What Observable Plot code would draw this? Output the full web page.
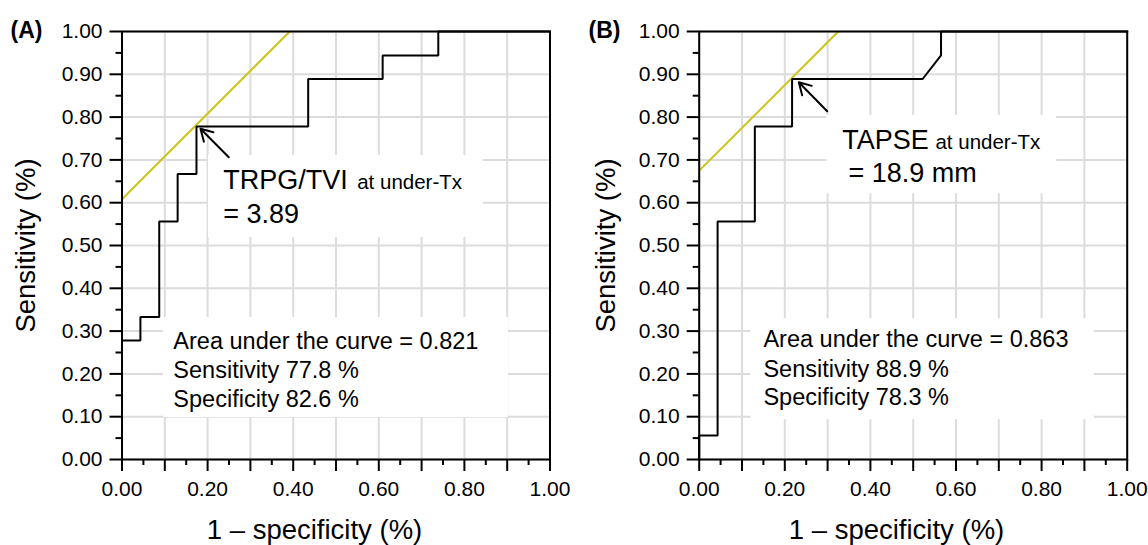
<!DOCTYPE html>
<html>
<head>
<meta charset="utf-8">
<script src="https://cdn.jsdelivr.net/npm/d3@7"></script>
<script src="https://cdn.jsdelivr.net/npm/@observablehq/plot@0.6"></script>
<style>
  body { margin: 0; background: #fff; }
  #wrap { display: flex; width: 1148px; height: 545px; overflow: hidden; }
  #wrap svg { display: block; }
</style>
</head>
<body>
<div id="wrap"></div>
<script>
// ---------- Data ----------
// Panel A: TRPG/TVI ROC curve (step corners)
const rocA_fpr = [0, 0, 0.043, 0.043, 0.087, 0.087, 0.130, 0.130, 0.174, 0.174, 0.435, 0.435, 0.609, 0.609, 0.739, 0.739, 1.0];
const rocA_tpr = [0, 0.278, 0.278, 0.333, 0.333, 0.556, 0.556, 0.667, 0.667, 0.778, 0.778, 0.889, 0.889, 0.944, 0.944, 1.0, 1.0];
// Panel A: cut-off tangent line (yellow)
const cutA_fpr = [0, 0.392];
const cutA_tpr = [0.608, 1.0];

// Panel B: TAPSE ROC curve
const rocB_fpr = [0, 0, 0.043, 0.043, 0.130, 0.130, 0.217, 0.217, 0.522, 0.565, 0.565, 1.0];
const rocB_tpr = [0, 0.056, 0.056, 0.556, 0.556, 0.778, 0.778, 0.889, 0.889, 0.944, 1.0, 1.0];
const cutB_fpr = [0, 0.325];
const cutB_tpr = [0.675, 1.0];

// Texts
const panelTags = ["(A)", "(B)"];
const markerNames = ["TRPG/TVI", "TAPSE"];
const markerSub = "at under-Tx";
const cutValues = ["= 3.89", "= 18.9 mm"];
const statsA = ["Area under the curve = 0.821", "Sensitivity 77.8 %", "Specificity 82.6 %"];
const statsB = ["Area under the curve = 0.863", "Sensitivity 88.9 %", "Specificity 78.3 %"];
const xTitle = "1 \u2013 specificity (%)";
const yTitle = "Sensitivity (%)";

// Ticks
const xLabelTicks = [0, 0.2, 0.4, 0.6, 0.8, 1.0];
const xLabels = ["0.00", "0.20", "0.40", "0.60", "0.80", "1.00"];
const yLabelTicks = [0, 0.1, 0.2, 0.3, 0.4, 0.5, 0.6, 0.7, 0.8, 0.9, 1.0];
const yLabels = ["0.00", "0.10", "0.20", "0.30", "0.40", "0.50", "0.60", "0.70", "0.80", "0.90", "1.00"];
const majorTicks = [0, 0.1, 0.2, 0.3, 0.4, 0.5, 0.6, 0.7, 0.8, 0.9, 1.0];
const minorTicks = [0.05, 0.15, 0.25, 0.35, 0.45, 0.55, 0.65, 0.75, 0.85, 0.95];

// ---------- Layout / annotation placement ----------
const FONT = "'Liberation Sans', Arial, Helvetica, sans-serif";
const layoutA = {
  ml: 121.5, mr: 24.5,
  tagDx: -111.5, yTitleDx: -87.5, xTitleDx: -21.5,
  boxes: [{x1: 0.097, x2: 0.903, y1: 0.098, y2: 0.332}, {x1: 0.202, x2: 0.845, y1: 0.519, y2: 0.71}],
  arrow: {x1: 0.2495, y1: 0.7063, x2: 0.1834, y2: 0.7727},
  name: {x: 0.2364, y: 0.6325}, sub: {x: 0.5495, y: 0.6325}, val: {x: 0.2364, y: 0.552},
  statsX: 0.12, statsY: [0.2587, 0.191, 0.1238]
};
const layoutB = {
  ml: 124.7, mr: 21.3,
  tagDx: -110.7, yTitleDx: -83.7, xTitleDx: -16.7,
  boxes: [{x1: 0.121, x2: 0.923, y1: 0.093, y2: 0.329}, {x1: 0.298, x2: 0.835, y1: 0.621, y2: 0.804}],
  arrow: {x1: 0.299, y1: 0.8138, x2: 0.2327, y2: 0.8815},
  name: {x: 0.334, y: 0.7266}, sub: {x: 0.552, y: 0.7266}, val: {x: 0.3486, y: 0.6495},
  statsX: 0.150, statsY: [0.2624, 0.1923, 0.1262]
};

const labX = new Map(xLabelTicks.map((v, i) => [v, xLabels[i]]));
const labY = new Map(yLabelTicks.map((v, i) => [v, yLabels[i]]));

function panel(fpr, tpr, cfpr, ctpr, idx, stats, L) {
  const roc = fpr.map((x, i) => ({x, y: tpr[i]}));
  const cut = cfpr.map((x, i) => ({x, y: ctpr[i]}));
  const statRows = stats.map((t, i) => ({t, x: L.statsX, y: L.statsY[i]}));
  return Plot.plot({
    width: 574, height: 545,
    marginLeft: L.ml, marginRight: L.mr, marginTop: 31, marginBottom: 86,
    x: {domain: [0, 1], label: null},
    y: {domain: [0, 1], label: null},
    style: {fontFamily: FONT, background: "white", color: "#000"},
    marks: [
      Plot.gridX(majorTicks, {stroke: "#dcdcdc", strokeOpacity: 1, strokeWidth: 2}),
      Plot.gridY(majorTicks, {stroke: "#dcdcdc", strokeOpacity: 1, strokeWidth: 2}),
      Plot.rect(L.boxes, {x1: "x1", x2: "x2", y1: "y1", y2: "y2", fill: "white"}),
      Plot.line(cut, {x: "x", y: "y", stroke: "#cdc41a", strokeWidth: 2}),
      Plot.line(roc, {x: "x", y: "y", stroke: "#000", strokeWidth: 2, strokeLinejoin: "miter", strokeLinecap: "square"}),
      Plot.frame({stroke: "#000", strokeWidth: 2}),
      Plot.axisX(minorTicks, {tickSize: 6, tickFormat: () => "", strokeWidth: 2, label: null}),
      Plot.axisX(majorTicks, {tickSize: 12, tickPadding: 10, tickFormat: d => labX.get(d) ?? "", fontSize: 21, strokeWidth: 2, label: null}),
      Plot.axisY(minorTicks, {tickSize: 6, tickFormat: () => "", strokeWidth: 2, label: null}),
      Plot.axisY(majorTicks, {tickSize: 12, tickPadding: 7.5, tickFormat: d => labY.get(d) ?? "", fontSize: 21, strokeWidth: 2, label: null}),
      Plot.arrow([L.arrow], {x1: "x1", y1: "y1", x2: "x2", y2: "y2", stroke: "#000", strokeWidth: 2, headLength: 13, bend: 0}),
      Plot.text([{...L.name, t: markerNames[idx]}], {x: "x", y: "y", text: "t", textAnchor: "start", lineAnchor: "bottom", fontSize: 27, fill: "#000"}),
      Plot.text([{...L.sub, t: markerSub}], {x: "x", y: "y", text: "t", textAnchor: "start", lineAnchor: "bottom", fontSize: 20.5, fill: "#000"}),
      Plot.text([{...L.val, t: cutValues[idx]}], {x: "x", y: "y", text: "t", textAnchor: "start", lineAnchor: "bottom", fontSize: 27, fill: "#000"}),
      Plot.text(statRows, {x: "x", y: "y", text: "t", textAnchor: "start", lineAnchor: "bottom", fontSize: 23.5, fill: "#000"}),
      Plot.text([panelTags[idx]], {frameAnchor: "top-left", text: d => d, dx: L.tagDx, dy: 6, textAnchor: "start", lineAnchor: "bottom", fontSize: 23, fontWeight: "bold", fill: "#000"}),
      Plot.text([yTitle], {frameAnchor: "left", text: d => d, rotate: -90, dx: L.yTitleDx, textAnchor: "middle", lineAnchor: "bottom", fontSize: 27.5, fill: "#000"}),
      Plot.text([xTitle], {frameAnchor: "bottom", text: d => d, dx: L.xTitleDx, dy: 79, textAnchor: "middle", lineAnchor: "bottom", fontSize: 27.5, fill: "#000"})
    ]
  });
}

const wrap = document.getElementById("wrap");
wrap.appendChild(panel(rocA_fpr, rocA_tpr, cutA_fpr, cutA_tpr, 0, statsA, layoutA));
wrap.appendChild(panel(rocB_fpr, rocB_tpr, cutB_fpr, cutB_tpr, 1, statsB, layoutB));
</script>
</body>
</html>
